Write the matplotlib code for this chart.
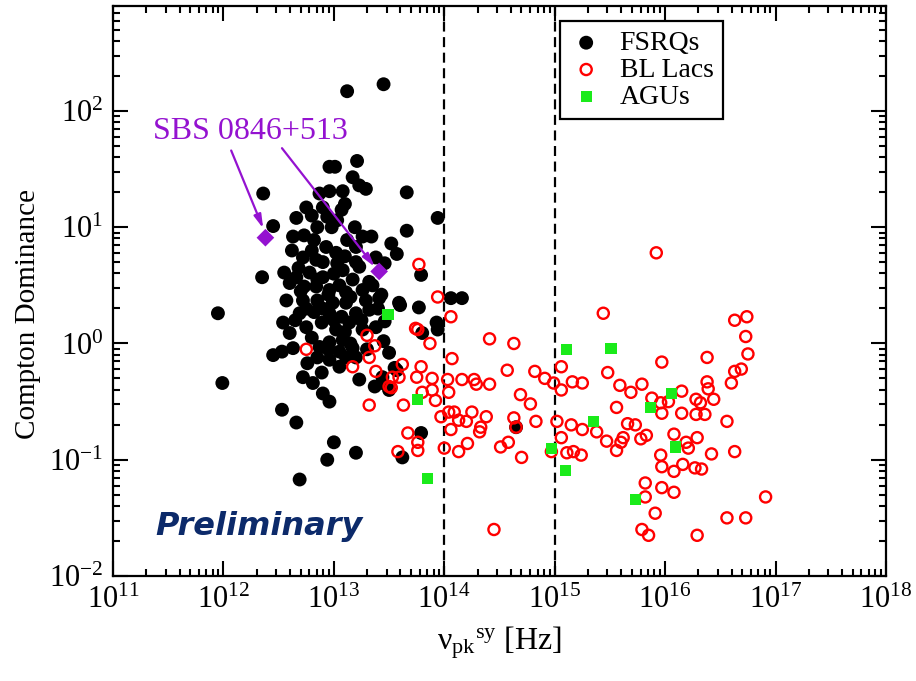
import numpy as np
import matplotlib
matplotlib.use("Agg")
from matplotlib import pyplot as plt
from matplotlib.ticker import LogLocator, NullFormatter

plt.rcParams['font.family'] = ['Liberation Serif', 'DejaVu Serif']
plt.rcParams['mathtext.fontset'] = 'custom'
plt.rcParams['mathtext.rm'] = 'Liberation Serif'
plt.rcParams['mathtext.it'] = 'Liberation Serif:italic'
plt.rcParams['mathtext.bf'] = 'Liberation Serif:bold'

# values, stored as log10(nu_pk / Hz) and log10(CD)
log_nu_fsrq = [13.45, 13.12, 12.96, 13.01, 13.21, 13.17, 13.23, 13.29, 13.66, 12.36,
               12.87, 12.96, 13.08, 12.75, 12.90, 13.07, 12.66, 12.94, 13.03, 13.94,
               13.19, 12.45, 13.66, 13.34, 13.52, 13.57, 12.63, 12.73, 12.82, 12.93,
               13.02, 13.12, 13.20, 13.26, 12.62, 12.72, 12.84, 13.03, 13.23, 13.38,
               13.46, 12.55, 12.66, 12.78, 12.90, 13.08, 13.17, 13.32, 12.35, 12.60,
               12.73, 12.84, 12.96, 13.11, 13.26, 12.57, 12.72, 12.85, 12.99, 13.11,
               13.29, 13.41, 13.59, 11.95, 12.69, 12.82, 12.96, 13.07, 13.20, 13.32,
               13.77, 12.54, 12.60, 12.75, 12.89, 13.02, 13.14, 13.26, 13.38, 13.93,
               13.80, 12.45, 12.53, 12.63, 12.87, 12.96, 13.08, 13.17, 12.96, 13.11,
               13.20, 13.50, 12.76, 12.72, 12.81, 12.90, 12.96, 12.89, 13.05, 13.23,
               13.37, 13.44, 13.50, 13.57, 11.99, 12.53, 12.66, 13.00, 12.94, 13.20,
               12.69, 13.79, 13.62, 13.79, 13.43, 13.60, 13.46, 13.94, 14.06, 14.16,
               13.55, 13.44, 14.65, 12.68, 12.80, 12.90, 13.00, 13.10, 12.85, 12.95,
               13.05, 13.15, 12.75, 12.90, 13.00, 13.10, 12.80, 12.95, 13.05, 12.70,
               13.20, 13.25, 12.65, 12.85, 13.15, 13.30, 12.98, 12.85, 13.10, 12.80,
               13.35, 13.40, 13.45]
log_cd_fsrq = [2.23, 2.17, 1.52, 1.52, 1.57, 1.43, 1.36, 1.33, 1.30, 1.29,
               1.29, 1.31, 1.31, 1.17, 1.17, 1.15, 1.08, 1.09, 1.06, 1.08,
               1.00, 1.01, 0.97, 0.92, 0.86, 0.77, 0.92, 0.93, 0.89, 0.83,
               0.78, 0.89, 0.83, 0.92, 0.80, 0.74, 0.72, 0.69, 0.66, 0.74,
               0.69, 0.61, 0.57, 0.61, 0.57, 0.63, 0.55, 0.53, 0.57, 0.52,
               0.49, 0.49, 0.46, 0.44, 0.46, 0.37, 0.37, 0.37, 0.35, 0.35,
               0.37, 0.39, 0.35, 0.26, 0.26, 0.27, 0.26, 0.23, 0.26, 0.29,
               0.31, 0.18, 0.09, 0.14, 0.18, 0.12, 0.18, 0.12, 0.14, 0.18,
               0.09, -0.10, -0.07, -0.04, -0.03, 0.01, 0.03, -0.04, -0.14, -0.12,
               -0.12, -0.08, -0.17, -0.29, -0.34, -0.43, -0.50, -0.25, -0.20, -0.31,
               -0.37, -0.29, -0.40, -0.23, -0.34, -0.57, -0.68, -0.85, -1.00, -0.94,
               -1.17, -0.77, -0.98, 0.59, 0.42, 0.33, 0.19, 0.12, 0.39, 0.39,
               -0.21, -0.34, -0.72, 0.65, 0.80, 0.70, 0.60, 0.75, 0.55, 0.42,
               0.50, 0.40, 0.30, 0.30, 0.20, 0.10, 0.05, -0.05, -0.07, 0.45,
               0.70, 0.20, 0.20, -0.12, 0.00, -0.05, 1.00, 1.00, 1.20, 1.10,
               0.50, 0.30, 0.02]

log_nu_bll = [13.77, 13.94, 14.06, 13.74, 13.76, 13.87, 14.07, 14.41, 14.63, 13.62,
              13.79, 13.75, 13.89, 14.03, 13.53, 13.59, 14.16, 14.27, 14.29, 14.41,
              14.57, 14.82, 14.91, 14.99, 15.06, 15.06, 15.16, 15.25, 13.52, 13.80,
              13.89, 14.04, 13.92, 13.63, 14.69, 14.78, 13.97, 14.04, 14.09, 14.13,
              14.20, 14.25, 14.33, 14.38, 14.32, 14.06, 14.63, 14.65, 14.83, 15.02,
              15.15, 15.25, 15.06, 15.38, 15.47, 15.56, 15.62, 15.60, 15.66, 15.73,
              15.78, 15.83, 13.67, 13.76, 13.76, 13.58, 14.00, 14.13, 14.21, 14.51,
              14.58, 14.70, 14.97, 15.11, 15.17, 15.24, 15.56, 15.48, 15.59, 15.69,
              15.79, 15.88, 15.96, 15.97, 15.97, 15.44, 15.92, 16.08, 15.96, 15.97,
              16.08, 15.82, 15.82, 15.97, 16.08, 15.91, 14.45, 15.79, 16.63, 16.74,
              16.73, 16.75, 16.38, 16.63, 16.69, 16.60, 16.38, 16.39, 16.15, 16.03,
              16.15, 16.28, 16.32, 16.44, 16.28, 16.36, 16.56, 16.19, 16.21, 16.29,
              16.42, 16.63, 16.16, 16.27, 16.33, 16.91, 16.56, 16.73, 16.29, 15.85,
              12.75, 13.30, 13.37, 13.32, 13.17, 13.38, 13.50, 13.32]
log_cd_bll = [0.68, 0.40, 0.23, 0.13, 0.12, 0.00, -0.13, 0.04, 0.00, -0.18,
              -0.20, -0.29, -0.30, -0.31, -0.29, -0.29, -0.31, -0.31, -0.35, -0.35,
              -0.23, -0.24, -0.30, -0.34, -0.20, -0.40, -0.33, -0.34, -0.38, -0.42,
              -0.40, -0.42, -0.49, -0.53, -0.44, -0.52, -0.63, -0.59, -0.59, -0.66,
              -0.67, -0.59, -0.72, -0.63, -0.76, -0.74, -0.64, -0.72, -0.67, -0.67,
              -0.70, -0.74, -0.81, -0.76, -0.84, -0.92, -0.81, -0.85, -0.69, -0.70,
              -0.82, -0.79, -0.77, -0.85, -0.92, -0.93, -0.90, -0.93, -0.86, -0.89,
              -0.85, -0.98, -0.93, -0.94, -0.93, -0.96, -0.55, -0.25, -0.36, -0.42,
              -0.35, -0.47, -0.51, -0.60, -0.16, 0.26, 0.78, -0.78, -0.96, -1.06,
              -1.10, -1.20, -1.32, -1.24, -1.28, -1.46, -1.60, -1.60, 0.20, 0.23,
              0.06, -0.09, -0.12, -0.24, -0.22, -0.34, -0.33, -0.39, -0.41, -0.50,
              -0.60, -0.48, -0.51, -0.48, -0.61, -0.61, -0.67, -0.85, -0.90, -0.81,
              -0.95, -0.93, -1.04, -1.07, -1.08, -1.32, -1.50, -1.50, -1.65, -1.65,
              -0.05, 0.07, -0.02, -0.12, -0.20, -0.24, -0.37, -0.53]

log_nu_agu = [13.49, 13.76, 13.85, 15.11, 15.51, 15.35, 14.97, 15.10, 15.73, 15.87, 16.06, 16.09]
log_cd_agu = [0.25, -0.48, -1.16, -0.05, -0.04, -0.67, -0.90, -1.09, -1.34, -0.55, -0.43, -0.89]

# SBS 0846+513, two states
log_nu_sbs = [12.38, 13.41]
log_cd_sbs = [0.91, 0.62]

nu_cuts = [1e14, 1e15]
purple = '#9412d0'

fig = plt.figure(figsize=(9.16, 6.81), dpi=100)
ax = fig.add_axes([0.1234, 0.1542, 0.8438, 0.8370])
ax.set_xscale('log')
ax.set_yscale('log')

for c in nu_cuts:
    ax.axvline(c, color='black', lw=1.6, ls=(0, (4.5, 2.5)), zorder=1)

ax.scatter(10**np.array(log_nu_fsrq), 10**np.array(log_cd_fsrq), s=100, c='black',
           edgecolors='none', label='FSRQs', zorder=2)
ax.scatter(10**np.array(log_nu_bll), 10**np.array(log_cd_bll), s=64, facecolors='none',
           edgecolors='red', linewidths=1.7, label='BL Lacs', zorder=3)
ax.scatter(10**np.array(log_nu_agu), 10**np.array(log_cd_agu), s=64, marker='s',
           c='#1aeb1a', edgecolors='none', label='AGUs', zorder=4)
ax.scatter(10**np.array(log_nu_sbs), 10**np.array(log_cd_sbs), s=81, marker='D',
           c=purple, edgecolors='none', zorder=5)

# label + two arrows
ax.text(10**12.24, 10**1.82, 'SBS 0846+513', color=purple, fontsize=23,
        ha='center', va='center', zorder=6)
arrow = dict(arrowstyle='-|>,head_length=0.8,head_width=0.22', color=purple, lw=1.6,
             shrinkA=0, shrinkB=0)
ax.annotate('', xy=(10**12.36, 10**0.99), xytext=(10**12.07, 10**1.66), arrowprops=arrow)
ax.annotate('', xy=(10**13.37, 10**0.66), xytext=(10**12.53, 10**1.68), arrowprops=arrow)

ax.text(0.055, 0.072, 'Preliminary', transform=ax.transAxes, fontsize=23,
        family='DejaVu Sans', weight='bold', style='italic', color='#0c2a6a')

ax.set_xlim(1e11, 1e18)
ax.set_ylim(1e-2, 8e2)

ax.xaxis.set_major_locator(LogLocator(base=10, numticks=20))
ax.xaxis.set_minor_locator(LogLocator(base=10, subs=np.arange(2, 10), numticks=100))
ax.yaxis.set_major_locator(LogLocator(base=10, numticks=20))
ax.yaxis.set_minor_locator(LogLocator(base=10, subs=np.arange(2, 10), numticks=100))
ax.xaxis.set_minor_formatter(NullFormatter())
ax.yaxis.set_minor_formatter(NullFormatter())

ax.tick_params(which='both', direction='in', top=True, right=True, width=1.5)
ax.tick_params(which='major', length=11, labelsize=22, pad=7)
ax.tick_params(which='minor', length=5)
for sp in ax.spines.values():
    sp.set_linewidth(1.6)

ax.set_xlabel(r'$\mathrm{\nu_{pk}{}^{sy}}$ [Hz]', fontsize=23)
ax.set_ylabel('Compton Dominance', fontsize=21)
ax.yaxis.set_label_coords(-0.093, 0.46)
ax.xaxis.set_label_coords(0.5, -0.085)

leg = ax.legend(loc='upper left', bbox_to_anchor=(0.578, 0.974), borderaxespad=0,
                fontsize=20, frameon=True, fancybox=False, framealpha=1,
                edgecolor='black', labelspacing=0.05, handletextpad=0.6,
                borderpad=0.35, handlelength=1.2, scatterpoints=1)
leg.get_frame().set_linewidth(1.6)

fig.savefig('out.png', dpi=100, facecolor='white')
